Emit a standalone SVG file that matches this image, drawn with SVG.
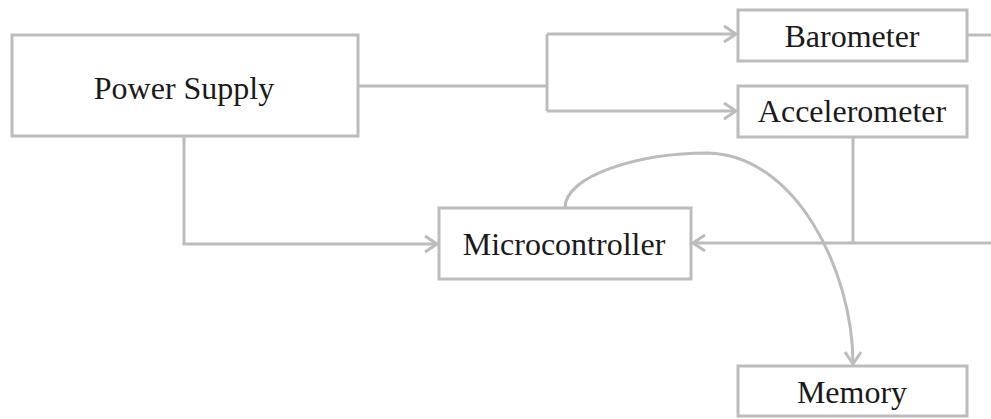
<svg xmlns="http://www.w3.org/2000/svg" width="991" height="419" viewBox="0 0 991 419">
<style>
.box{fill:#fff;stroke:#bcbcbc;stroke-width:3}
.lbl{font-family:"Liberation Serif","DejaVu Serif",serif;font-size:32px;fill:#1a1a1a;text-anchor:middle}
.con{fill:none;stroke:#bcbcbc;stroke-width:3}
</style>
<defs>
<marker id="arr" markerUnits="userSpaceOnUse" markerWidth="18" markerHeight="22" viewBox="0 0 18 22" refX="15" refY="11" orient="auto">
<path d="M3,3 L15,11 L3,19" fill="none" stroke="#bcbcbc" stroke-width="3"/>
</marker>
</defs>
<rect width="991" height="419" fill="#fff"/>
<g id="connectors">
<path class="con" d="M358,86 H547"/>
<path class="con" d="M547,34 V111"/>
<path class="con" d="M547,34 H736" marker-end="url(#arr)"/>
<path class="con" d="M547,111 H736" marker-end="url(#arr)"/>
<path class="con" d="M967,35 H991"/>
<path class="con" d="M184,137 V244 H437" marker-end="url(#arr)"/>
<path class="con" d="M853,137 V243"/>
<path class="con" d="M991,243 H693" marker-end="url(#arr)"/>
<path class="con" d="M565,208 C565,175 640,153 708,153 C795,155 853,270 853,364" marker-end="url(#arr)"/>
</g>
<g id="power-supply">
<rect class="box" x="12" y="35" width="346" height="101"/>
<text class="lbl" x="184" y="99">Power Supply</text>
</g>
<g id="barometer">
<rect class="box" x="738" y="10" width="229" height="51"/>
<text class="lbl" x="852" y="47">Barometer</text>
</g>
<g id="accelerometer">
<rect class="box" x="738" y="86" width="229" height="51"/>
<text class="lbl" x="852" y="122">Accelerometer</text>
</g>
<g id="microcontroller">
<rect class="box" x="439" y="208" width="252" height="71"/>
<text class="lbl" x="564" y="255">Microcontroller</text>
</g>
<g id="memory">
<rect class="box" x="738" y="366" width="229" height="50"/>
<text class="lbl" x="852" y="403">Memory</text>
</g>
</svg>
